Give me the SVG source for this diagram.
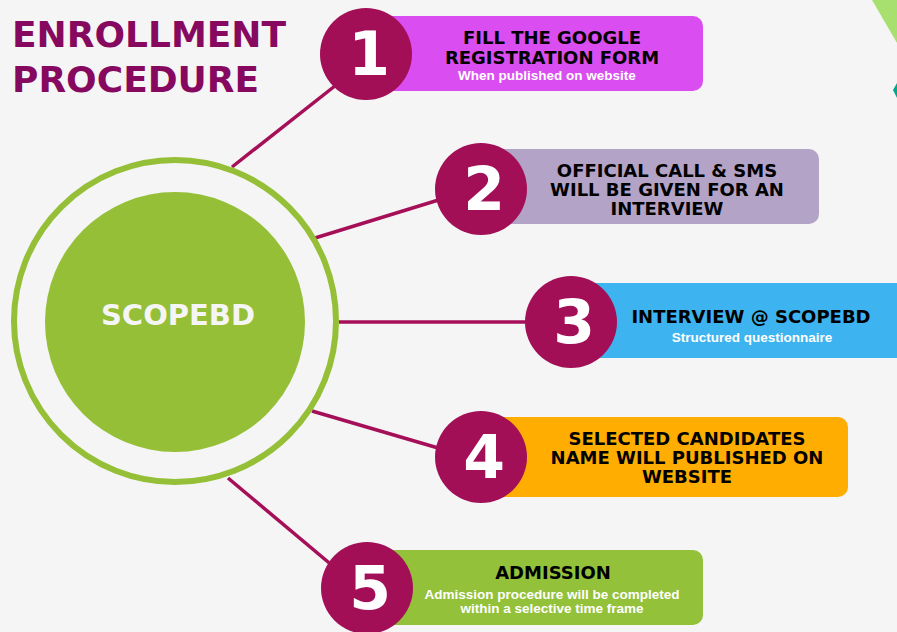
<svg xmlns="http://www.w3.org/2000/svg" width="897" height="632" viewBox="0 0 897 632">
<style>
.title{font-family:"DejaVu Sans",Verdana,sans-serif;font-weight:bold;font-size:36px;fill:#86095f}
.num{font-family:"DejaVu Sans",Verdana,sans-serif;font-weight:bold;font-size:60px;fill:#ffffff;text-anchor:middle}
.head{font-family:"DejaVu Sans",Verdana,sans-serif;font-weight:bold;font-size:18px;fill:#000000;text-anchor:middle}
.sub{font-family:"Liberation Sans",Arial,sans-serif;font-weight:bold;font-size:13.5px;fill:#ffffff;text-anchor:middle}
.badge{fill:#a30f57}
.conn{stroke:#a50f58;stroke-width:3.5;fill:none}
</style>
<rect width="897" height="632" fill="#f5f5f5"/>
<polygon points="872,0 897,0 897,43" fill="#a8e070"/>
<polygon points="897,83 893,90 897,98" fill="#00a88a"/>
<text class="title" x="12" y="47">ENROLLMENT</text>
<text class="title" x="12" y="92">PROCEDURE</text>
<g id="connectors">
<line class="conn" x1="232" y1="167" x2="345" y2="78"/>
<line class="conn" x1="315" y1="238" x2="445" y2="198"/>
<line class="conn" x1="339" y1="322" x2="535" y2="322"/>
<line class="conn" x1="312" y1="411" x2="445" y2="450"/>
<line class="conn" x1="228" y1="478" x2="340" y2="572"/>
</g>
<g id="center">
<circle cx="175" cy="321" r="161" fill="none" stroke="#95bf37" stroke-width="6"/>
<circle cx="175" cy="322" r="130" fill="#95bf37"/>
<text x="178" y="325" font-family="DejaVu Sans, Verdana, sans-serif" font-weight="bold" font-size="29" fill="#f5f5f5" text-anchor="middle">SCOPEBD</text>
</g>
<g id="step1">
<rect x="366" y="16" width="337" height="75" rx="10" fill="#da4ef1"/>
<circle class="badge" cx="366" cy="54" r="46"/>
<text class="num" x="369" y="75">1</text>
<text class="head" x="552" y="44">FILL THE GOOGLE</text>
<text class="head" x="552" y="64">REGISTRATION FORM</text>
<text class="sub" x="547" y="80">When published on website</text>
</g>
<g id="step2">
<rect x="481" y="149" width="338" height="75" rx="10" fill="#b3a3c7"/>
<circle class="badge" cx="481" cy="189" r="46"/>
<text class="num" x="484" y="210">2</text>
<text class="head" x="667" y="177">OFFICIAL CALL &amp; SMS</text>
<text class="head" x="667" y="196">WILL BE GIVEN FOR AN</text>
<text class="head" x="667" y="215">INTERVIEW</text>
</g>
<g id="step3">
<rect x="571" y="283" width="340" height="75" rx="10" fill="#3db4ef"/>
<circle class="badge" cx="571" cy="322" r="46"/>
<text class="num" x="574" y="343">3</text>
<text class="head" x="751" y="323">INTERVIEW @ SCOPEBD</text>
<text class="sub" x="752" y="342">Structured questionnaire</text>
</g>
<g id="step4">
<rect x="481" y="417" width="367" height="80" rx="10" fill="#ffad00"/>
<circle class="badge" cx="481" cy="457" r="46"/>
<text class="num" x="484" y="478">4</text>
<text class="head" x="687" y="445">SELECTED CANDIDATES</text>
<text class="head" x="687" y="464">NAME WILL PUBLISHED ON</text>
<text class="head" x="687" y="483">WEBSITE</text>
</g>
<g id="step5">
<rect x="367" y="550" width="336" height="75" rx="10" fill="#93c13a"/>
<circle class="badge" cx="367" cy="588" r="46"/>
<text class="num" x="370" y="609">5</text>
<text class="head" x="553" y="579">ADMISSION</text>
<text class="sub" x="552" y="599">Admission procedure will be completed</text>
<text class="sub" x="552" y="613">within a selective time frame</text>
</g>
</svg>
